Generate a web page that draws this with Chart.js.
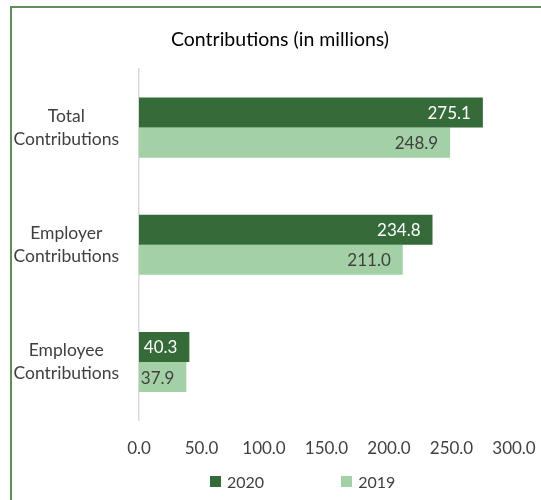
<!DOCTYPE html>
<html>
<head>
<meta charset="utf-8">
<script src="https://cdn.jsdelivr.net/npm/chart.js@4"></script>
<style>
  html, body { margin: 0; padding: 0; background: #fff; overflow: hidden; }
  #wrap { position: relative; width: 541px; height: 500px; }
  #frame {
    position: absolute; left: 10px; top: 6px; right: -10px; bottom: -10px;
    border: 2px solid #5e8e5b; pointer-events: none;
  }
  #legend {
    position: absolute; left: 210px; top: 472px;
    display: flex; align-items: center;
    font: 16px Lato, sans-serif; color: #404040;
  }
  #legend .item { display: flex; align-items: center; margin-right: 77px; }
  #legend .item:last-child { margin-right: 0; }
  #legend .box { width: 11px; height: 11px; margin-right: 6px; }
</style>
</head>
<body>
<div id="wrap">
  <canvas id="contribChart" width="541" height="500"></canvas>
  <div id="frame"></div>
  <div id="legend"></div>
</div>
<script>
// data
const categories = [['Total', 'Contributions'], ['Employer', 'Contributions'], ['Employee', 'Contributions']];
const values2020 = [275.1, 234.8, 40.3];
const values2019 = [248.9, 211.0, 37.9];
const xTicks = [0, 50, 100, 150, 200, 250, 300];

const darkGreen = '#346b38';
const lightGreen = '#a3d0a5';
const textGray = '#404040';

// value labels drawn inside the end of each bar
const barLabels = {
  id: 'barLabels',
  afterDatasetsDraw(chart) {
    const ctx = chart.ctx;
    ctx.save();
    ctx.font = '17px Lato, sans-serif';
    ctx.textAlign = 'right';
    ctx.textBaseline = 'middle';
    chart.data.datasets.forEach((ds, i) => {
      const meta = chart.getDatasetMeta(i);
      ctx.fillStyle = ds.labelColor;
      meta.data.forEach((bar, j) => {
        ctx.fillText(ds.data[j].toFixed(1), bar.x - 12, bar.y + 1);
      });
    });
    ctx.restore();
  }
};

// title sits a bit right of the canvas middle
const titleShift = {
  id: 'titleShift',
  afterLayout(chart) {
    if (chart.titleBlock) chart.titleBlock.left += 46;
  }
};

// legend as html under the plot
const htmlLegend = {
  id: 'htmlLegend',
  afterUpdate(chart) {
    const el = document.getElementById('legend');
    el.innerHTML = '';
    chart.data.datasets.forEach(ds => {
      const item = document.createElement('div');
      item.className = 'item';
      const box = document.createElement('span');
      box.className = 'box';
      box.style.background = ds.backgroundColor;
      const txt = document.createElement('span');
      txt.textContent = ds.label;
      item.appendChild(box);
      item.appendChild(txt);
      el.appendChild(item);
    });
  }
};

const ctx = document.getElementById('contribChart').getContext('2d');
const contribChart = new Chart(ctx, {
  type: 'bar',
  data: {
    labels: categories,
    datasets: [
      { label: '2020', data: values2020, backgroundColor: darkGreen, labelColor: '#ffffff' },
      { label: '2019', data: values2019, backgroundColor: lightGreen, labelColor: textGray }
    ]
  },
  options: {
    indexAxis: 'y',
    responsive: false,
    animation: false,
    datasets: {
      bar: { categoryPercentage: 0.513, barPercentage: 1.0 }
    },
    layout: { padding: { left: 0, right: 27, top: 0, bottom: 23 } },
    plugins: {
      legend: { display: false },
      tooltip: { enabled: false },
      title: {
        display: true,
        text: 'Contributions (in millions)',
        color: '#000000',
        font: { family: 'Lato', size: 19.5, weight: 'normal' },
        padding: { top: 28, bottom: 17.6 }
      }
    },
    scales: {
      x: {
        min: 0,
        max: 300,
        afterBuildTicks(scale) {
          scale.ticks = xTicks.map(v => ({ value: v }));
        },
        afterFit(scale) {
          scale.paddingLeft = 0;
          scale.paddingRight = 0;
        },
        grid: { display: false, drawTicks: false },
        border: { display: false },
        ticks: {
          padding: 18,
          color: textGray,
          font: { family: 'Lato', size: 17 },
          callback: v => Number(v).toFixed(1)
        }
      },
      y: {
        grid: { display: false, drawTicks: false },
        border: { display: true, color: '#d9d9d9', width: 1.5 },
        afterFit(scale) {
          scale.width = 139;
          scale.paddingTop = 0;
          scale.paddingBottom = 0;
        },
        ticks: {
          padding: 20,
          crossAlign: 'center',
          color: textGray,
          font: { family: 'Lato', size: 17.5, lineHeight: 1.32 }
        }
      }
    }
  },
  plugins: [barLabels, titleShift, htmlLegend]
});
</script>
</body>
</html>
